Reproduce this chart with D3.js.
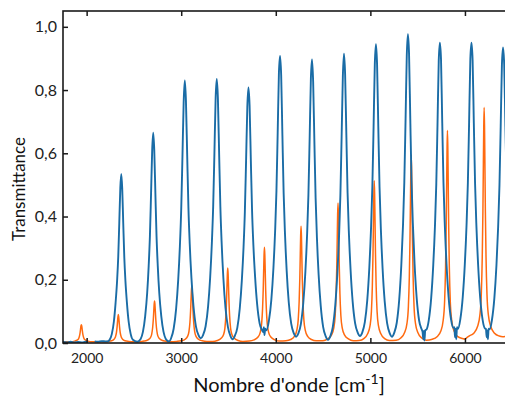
<!DOCTYPE html>
<html><head><meta charset="utf-8">
<script src="https://cdn.jsdelivr.net/npm/d3@7/dist/d3.min.js"></script>
<style>html,body{margin:0;padding:0;background:#fff;}svg{display:block;font-family:Lato,"Open Sans",sans-serif;}</style>
</head><body>
<svg id="c" width="505" height="399"></svg>
<script>
// ---- data ----
const xTicks = [2000, 3000, 4000, 5000, 6000];
const yTicks = [0, 0.2, 0.4, 0.6, 0.8, 1.0];
const yTickLabels = ["0,0", "0,2", "0,4", "0,6", "0,8", "1,0"];
const xTitle = "Nombre d'onde";
const yTitle = "Transmittance";

// blue spectrum [wavenumber, transmittance]; null marks a gap
const blueSeries = [
[1750,0.003],[1790,0.002],[1830,0.004],[1870,0.002],[1910,0.003],[1950,0.002],[1990,0.004],[2015,0.002],null,
[2085,0.005],[2120,0.004],[2160,0.006],[2200,0.005],[2230,0.006],
[2243,0.01],[2266,0.028],[2288,0.068],[2306,0.127],[2322,0.197],[2334,0.272],[2345,0.379],[2356,0.49],[2366,0.535],
[2376,0.49],[2387,0.379],[2398,0.272],[2410,0.197],[2426,0.127],[2444,0.068],[2466,0.028],[2489,0.01],[2535,0.004],
[2571,0.013],[2595,0.035],[2619,0.085],[2640,0.158],[2656,0.244],[2669,0.338],[2681,0.471],[2693,0.61],[2704,0.665],
[2715,0.61],[2727,0.471],[2739,0.338],[2752,0.244],[2768,0.158],[2789,0.085],[2813,0.035],[2837,0.013],[2871,0.005],
[2893,0.015],[2920,0.045],[2946,0.108],[2968,0.199],[2986,0.307],[3000,0.423],[3013,0.589],[3026,0.763],[3038,0.83],
[3050,0.765],[3063,0.596],[3076,0.43],[3090,0.314],[3108,0.206],[3130,0.115],[3156,0.052],[3183,0.025],[3207,0.015],
[3231,0.025],[3258,0.053],[3284,0.115],[3306,0.207],[3324,0.316],[3338,0.433],[3351,0.60],[3364,0.775],[3376,0.835],
[3388,0.772],[3401,0.597],[3414,0.43],[3428,0.313],[3446,0.204],[3468,0.112],[3494,0.05],[3521,0.022],[3543,0.012],
[3566,0.022],[3593,0.048],[3619,0.109],[3641,0.198],[3659,0.303],[3673,0.416],[3686,0.578],[3699,0.747],[3711,0.808],
[3723,0.75],[3736,0.58],[3749,0.42],[3763,0.31],[3781,0.21],[3803,0.122],[3829,0.062],[3856,0.04],[3866,0.035],[3874,0.05],[3880,0.025],[3888,0.045],
[3900,0.04],[3927,0.07],[3953,0.137],[3975,0.237],[3993,0.355],[4007,0.482],[4020,0.664],[4033,0.854],[4045,0.908],
[4057,0.846],[4070,0.656],[4083,0.474],[4097,0.347],[4115,0.229],[4137,0.129],[4163,0.061],[4190,0.031],[4214,0.02],
[4238,0.03],[4265,0.06],[4291,0.128],[4313,0.226],[4331,0.343],[4345,0.469],[4358,0.648],[4371,0.836],[4383,0.897],
[4395,0.826],[4408,0.638],[4421,0.459],[4435,0.333],[4453,0.216],[4475,0.118],[4501,0.05],[4528,0.021],[4552,0.01],
[4576,0.021],[4603,0.051],[4629,0.12],[4651,0.22],[4669,0.339],[4683,0.468],[4696,0.651],[4709,0.843],[4721,0.915],
[4733,0.85],[4746,0.66],[4759,0.475],[4773,0.347],[4791,0.23],[4813,0.13],[4839,0.062],[4866,0.033],[4890,0.022],
[4914,0.033],[4941,0.065],[4967,0.135],[4989,0.239],[5007,0.362],[5021,0.495],[5034,0.684],[5047,0.882],[5059,0.945],
[5071,0.88],[5084,0.682],[5097,0.493],[5111,0.36],[5129,0.237],[5151,0.133],[5177,0.063],[5204,0.031],[5228,0.02],
[5252,0.032],[5279,0.064],[5305,0.137],[5327,0.245],[5345,0.372],[5359,0.509],[5372,0.704],[5385,0.909],[5397,0.977],
[5409,0.915],[5422,0.71],[5435,0.515],[5449,0.38],[5467,0.253],[5489,0.145],[5515,0.072],[5540,0.045],[5552,0.035],[5560,0.012],[5566,0.038],[5572,0.008],[5580,0.04],
[5592,0.042],[5617,0.071],[5643,0.142],[5665,0.247],[5683,0.37],[5697,0.503],[5710,0.693],[5723,0.893],[5735,0.95],
[5747,0.897],[5760,0.697],[5773,0.507],[5787,0.374],[5805,0.251],[5827,0.146],[5853,0.075],[5878,0.048],[5888,0.05],[5895,0.018],[5902,0.045],[5908,0.012],[5916,0.05],
[5926,0.045],[5951,0.075],[5977,0.146],[5999,0.251],[6017,0.374],[6031,0.507],[6044,0.697],[6057,0.897],[6069,0.95],
[6081,0.895],[6094,0.695],[6107,0.505],[6121,0.372],[6139,0.249],[6161,0.144],[6187,0.073],[6212,0.046],[6222,0.045],[6230,0.018],[6236,0.04],[6243,0.012],[6250,0.045],
[6260,0.043],[6285,0.072],[6311,0.142],[6333,0.245],[6351,0.367],[6365,0.498],[6378,0.685],[6391,0.881],[6403,0.935],
[6415,0.881],[6428,0.685],[6441,0.498],[6455,0.367]
];

// orange spectrum [wavenumber, transmittance]
const orangeSeries = [
[1750,0.003],
[1784,0.004],[1834,0.004],[1874,0.006],[1899,0.009],[1914,0.013],[1924,0.022],[1931,0.033],[1936,0.045],[1940,0.054],[1944,0.058],[1948,0.054],[1952,0.045],[1957,0.033],[1964,0.022],[1974,0.013],[1989,0.009],[2014,0.006],[2054,0.004],[2104,0.004],
[2175,0.004],[2225,0.005],[2265,0.007],[2290,0.012],[2305,0.020],[2315,0.033],[2322,0.051],[2327,0.069],[2331,0.083],[2335,0.090],[2339,0.083],[2343,0.069],[2348,0.051],[2355,0.033],[2365,0.020],[2380,0.012],[2405,0.007],[2445,0.005],[2495,0.004],
[2558,0.004],[2608,0.006],[2648,0.010],[2673,0.016],[2688,0.028],[2698,0.049],[2705,0.075],[2710,0.102],[2714,0.123],[2718,0.133],[2722,0.123],[2726,0.102],[2731,0.075],[2738,0.049],[2748,0.028],[2763,0.016],[2788,0.010],[2828,0.006],[2878,0.004],
[2952,0.005],[3002,0.007],[3042,0.012],[3067,0.021],[3082,0.037],[3092,0.065],[3099,0.101],[3104,0.138],[3108,0.167],[3112,0.181],[3116,0.167],[3120,0.138],[3125,0.101],[3132,0.065],[3142,0.037],[3157,0.021],[3182,0.012],[3222,0.007],[3272,0.005],
[3332,0.005],[3382,0.008],[3422,0.015],[3447,0.026],[3462,0.047],[3472,0.085],[3479,0.132],[3484,0.181],[3488,0.218],[3492,0.237],[3496,0.218],[3500,0.181],[3505,0.132],[3512,0.085],[3522,0.047],[3537,0.026],[3562,0.015],[3602,0.008],[3652,0.005],
[3720,0.006],[3770,0.010],[3810,0.018],[3835,0.033],[3850,0.060],[3860,0.108],[3867,0.168],[3872,0.231],[3876,0.279],[3880,0.303],[3884,0.279],[3888,0.231],[3893,0.168],[3900,0.108],[3910,0.060],[3925,0.033],[3950,0.018],[3990,0.010],[4040,0.006],
[4107,0.007],[4157,0.011],[4197,0.021],[4222,0.040],[4237,0.073],[4247,0.131],[4254,0.204],[4259,0.281],[4263,0.340],[4267,0.369],[4271,0.340],[4275,0.281],[4280,0.204],[4287,0.131],[4297,0.073],[4312,0.040],[4337,0.021],[4377,0.011],[4427,0.007],
[4498,0.007],[4548,0.013],[4588,0.025],[4613,0.047],[4628,0.087],[4638,0.157],[4645,0.245],[4650,0.337],[4654,0.408],[4658,0.443],[4662,0.408],[4666,0.337],[4671,0.245],[4678,0.157],[4688,0.087],[4703,0.047],[4728,0.025],[4768,0.013],[4818,0.007],
[4881,0.008],[4931,0.014],[4971,0.029],[4996,0.054],[5011,0.100],[5021,0.182],[5028,0.284],[5033,0.391],[5037,0.472],[5041,0.513],[5045,0.472],[5049,0.391],[5054,0.284],[5061,0.182],[5071,0.100],[5086,0.054],[5111,0.029],[5151,0.014],[5201,0.008],
[5272,0.009],[5322,0.016],[5362,0.033],[5387,0.062],[5402,0.115],[5412,0.210],[5419,0.329],[5424,0.453],[5428,0.548],[5432,0.595],[5436,0.548],[5440,0.453],[5445,0.329],[5452,0.210],[5462,0.115],[5477,0.062],[5502,0.033],[5542,0.016],[5592,0.009],
[5655,0.012],[5705,0.020],[5745,0.038],[5770,0.072],[5785,0.132],[5795,0.238],[5802,0.372],[5807,0.512],[5811,0.619],[5815,0.672],[5819,0.619],[5823,0.512],[5828,0.372],[5835,0.238],[5845,0.132],[5860,0.072],[5885,0.038],[5925,0.020],[5975,0.014],
[6000,0.012],[6020,0.017],
[6043,0.022],[6093,0.031],[6133,0.052],[6158,0.088],[6173,0.154],[6183,0.271],[6190,0.417],[6195,0.570],[6199,0.687],[6203,0.745],[6207,0.687],[6211,0.570],[6216,0.417],[6223,0.271],[6233,0.154],[6248,0.088],[6273,0.052],[6313,0.031],[6363,0.022],[6400,0.02],[6450,0.022]
];

// ---- drawing ----
const L = 63, R = 507.5, T = 11, B = 343;
const svg = d3.select("#c");
const x = d3.scaleLinear().domain([1750, 6450]).range([L, R]);
const y = d3.scaleLinear().domain([0, 1.05]).range([B, T]);

svg.append("defs").append("clipPath").attr("id","clip")
  .append("rect").attr("x", L).attr("y", T).attr("width", R - L).attr("height", B - T);

const line = d3.line()
  .defined(d => d !== null)
  .x(d => x(d[0])).y(d => y(d[1]))
  .curve(d3.curveMonotoneX);

const g = svg.append("g").attr("clip-path", "url(#clip)");
g.append("path").datum(orangeSeries).attr("d", line)
  .attr("fill","none").attr("stroke","#ff6a10").attr("stroke-width",1.5).attr("stroke-linejoin","round");
g.append("path").datum(blueSeries).attr("d", line)
  .attr("fill","none").attr("stroke","#1a6ca6").attr("stroke-width",1.9).attr("stroke-linejoin","round");

// axes (ticks inward)
const axisCol = "#1a1a1a";
const xb = svg.append("g").attr("transform", `translate(0,${B})`)
  .call(d3.axisBottom(x).tickValues(xTicks).tickSize(-5).tickPadding(10).tickFormat(d3.format("d")));
const xt = svg.append("g").attr("transform", `translate(0,${T})`)
  .call(d3.axisTop(x).tickValues(xTicks).tickSize(-5).tickFormat(""));
const yl = svg.append("g").attr("transform", `translate(${L},0)`)
  .call(d3.axisLeft(y).tickValues(yTicks).tickSize(-5).tickPadding(6).tickFormat((d,i) => yTickLabels[i]));
[xb, xt, yl].forEach(a => {
  a.select(".domain").remove();
  a.selectAll(".tick line").attr("stroke", axisCol).attr("stroke-width", 1.5);
  a.selectAll("text").attr("fill", "#222").style("font-family", "Lato, 'Open Sans', sans-serif");
});
xb.selectAll("text").style("font-size", "14px");
yl.selectAll("text").style("font-size", "16px");

// frame
svg.append("rect").attr("x", L).attr("y", T).attr("width", R - L).attr("height", B - T)
  .attr("fill","none").attr("stroke", axisCol).attr("stroke-width", 1.6);

// titles
const xt2 = svg.append("text").attr("x", 289).attr("y", 392)
  .attr("text-anchor","middle").attr("fill","#111").style("font-size","20px");
xt2.append("tspan").text(xTitle + " [cm");
xt2.append("tspan").attr("dy", -8).style("font-size","14px").text("-1");
xt2.append("tspan").attr("dy", 8).text("]");

svg.append("text").attr("transform", `translate(25,${(T + B) / 2 + 12}) rotate(-90)`)
  .attr("text-anchor","middle").attr("fill","#111").style("font-size","17px").text(yTitle);
</script>
</body></html>
